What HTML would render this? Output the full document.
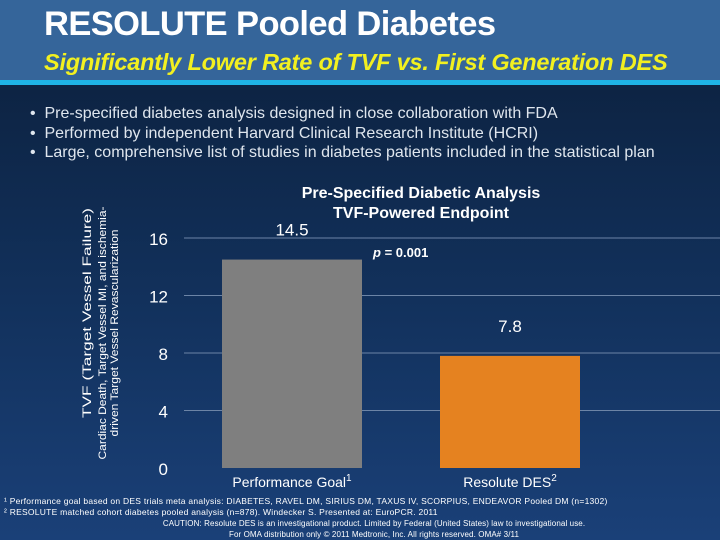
<!DOCTYPE html>
<html><head><meta charset="utf-8"><style>
body{margin:0;width:720px;height:540px;overflow:hidden;font-family:"Liberation Sans",sans-serif;}
#bg{position:absolute;left:0;top:0;width:720px;height:540px;background:linear-gradient(#0b1e3a 0px,#0d2444 90px,#12315c 300px,#1a4078 540px);}
#hdr{position:absolute;left:0;top:0;width:720px;height:80px;background:#35659a;}
#cyan{position:absolute;left:0;top:80px;width:720px;height:5px;background:#1fb4e6;}
.t{position:absolute;white-space:nowrap;}
</style></head><body>
<div id="bg"></div>
<div id="hdr"></div>
<div id="cyan"></div>
<div class="t" style="left:44px;top:5px;color:#fff;font-size:34.5px;font-weight:bold;letter-spacing:-0.6px;">RESOLUTE Pooled Diabetes</div>
<div class="t" style="left:44px;top:49px;color:#f2f020;font-size:23.5px;font-weight:bold;font-style:italic;letter-spacing:-0.2px;">Significantly Lower Rate of TVF vs. First Generation DES</div>
<div class="t" style="left:30px;top:104px;color:#dfe6ee;font-size:16px;line-height:19.5px;">• &nbsp;Pre-specified diabetes analysis designed in close collaboration with FDA<br>• &nbsp;Performed by independent Harvard Clinical Research Institute (HCRI)<br>• &nbsp;Large, comprehensive list of studies in diabetes patients included in the statistical plan</div>
<svg width="720" height="540" style="position:absolute;left:0;top:0">
<g id="g"></g>
</svg>
<div class="t" style="left:4px;top:496px;color:#fff;font-size:8.5px;line-height:11px;letter-spacing:0.25px;">¹ Performance goal based on DES trials meta analysis: DIABETES, RAVEL DM, SIRIUS DM, TAXUS IV, SCORPIUS, ENDEAVOR Pooled DM (n=1302)<br>² RESOLUTE matched cohort diabetes pooled analysis (n=878). Windecker S. Presented at: EuroPCR. 2011</div>
<div class="t" style="left:0;width:720px;text-align:center;top:518px;color:#fff;font-size:8px;line-height:11px;letter-spacing:0.1px;padding-left:28px;box-sizing:border-box;">CAUTION: Resolute DES is an investigational product. Limited by Federal (United States) law to investigational use.<br>For OMA distribution only © 2011 Medtronic, Inc. All rights reserved. OMA# 3/11</div>
<script>
const categories=["Performance Goal","Resolute DES"];
const sups=["1","2"];
const values=[14.5,7.8];
const ticks=[0,4,8,12,16];
const colors=["#7f7f7f","#e58220"];
const NS="http://www.w3.org/2000/svg";
const g=document.getElementById('g');
function y(v){return 468-v*14.375;}
const bx=[222,440],bw=140;
function mk(t,a,txt){const e=document.createElementNS(NS,t);for(const k in a)e.setAttribute(k,a[k]);if(txt!=null)e.textContent=txt;g.appendChild(e);return e;}
ticks.forEach(t=>{
 if(t>0){const l=mk('line',{x1:184,x2:720,y1:y(t),y2:y(t),stroke:'#6c84a6','stroke-width':1});
 
 }
 const tx=mk('text',{x:168,y:y(t)+7,'text-anchor':'end',fill:'#fff','font-size':'17','font-family':'Liberation Sans'},String(t));
 
 
});
values.forEach((v,i)=>{
 const r=mk('rect',{x:bx[i],y:y(v),width:bw,height:y(0)-y(v),fill:colors[i]});
 
 
 const vl=mk('text',{x:bx[i]+bw/2,y:y(v)-24,'text-anchor':'middle',fill:'#fff','font-size':'17','font-family':'Liberation Sans'},String(v));
 
 
 const cl=mk('text',{x:bx[i]+bw/2,y:487,'text-anchor':'middle',fill:'#fff','font-size':'14','font-family':'Liberation Sans'},categories[i]);
 
 
 const ts=document.createElementNS(NS,'tspan');ts.setAttribute('dy','-6');ts.setAttribute('font-size','10');ts.textContent=sups[i];cl.appendChild(ts);
});
const t1=mk('text',{x:421,y:198,'text-anchor':'middle',fill:'#fff','font-size':'16','font-weight':'bold','font-family':'Liberation Sans'},'Pre-Specified Diabetic Analysis');


const t2=mk('text',{x:421,y:218,'text-anchor':'middle',fill:'#fff','font-size':'16','font-weight':'bold','font-family':'Liberation Sans'},'TVF-Powered Endpoint');


const p=mk('text',{x:373,y:257,fill:'#fff','font-size':'13','font-weight':'bold','font-family':'Liberation Sans'});


p.innerHTML='<tspan font-style="italic">p</tspan> = 0.001';
const ya=mk('text',{transform:'translate(91,313) rotate(-90)','text-anchor':'middle',fill:'#fff','font-size':'12','font-family':'Liberation Sans',textLength:'210',lengthAdjust:'spacingAndGlyphs'},'TVF (Target Vessel Failure)');


[['Cardiac Death, Target Vessel MI, and ischemia-',253],['driven Target Vessel Revascularization',207]].forEach((s,i)=>{
 const e=mk('text',{transform:'translate('+(106+i*12)+',333) rotate(-90)','text-anchor':'middle',fill:'#fff','font-size':'11','font-family':'Liberation Sans',textLength:String(s[1]),lengthAdjust:'spacingAndGlyphs'},s[0]);
 
 
});
</script>
</body></html>
